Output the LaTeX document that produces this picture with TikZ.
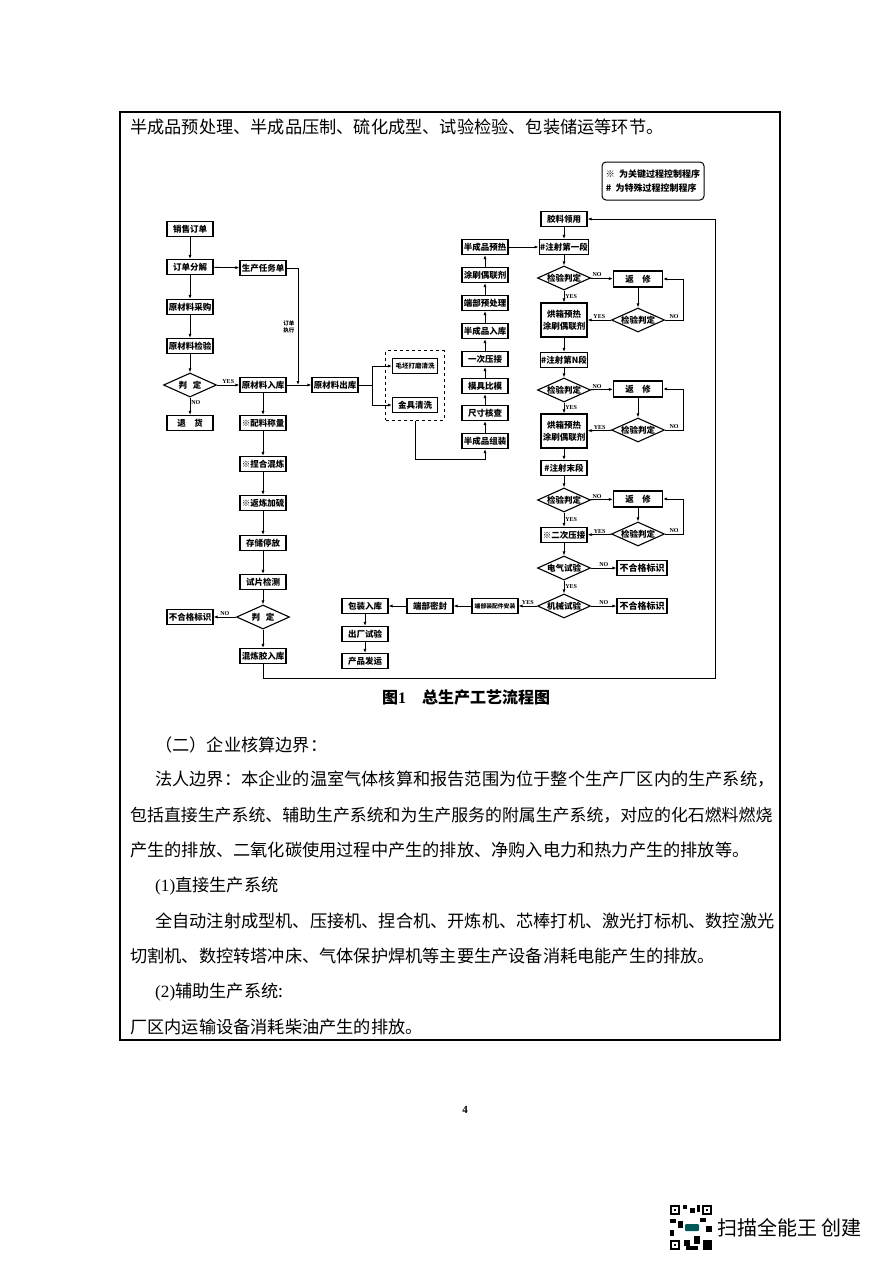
\documentclass[tikz,border=0pt]{standalone}
\usepackage{fontspec}
\setmainfont{Noto Sans CJK SC}
\newfontfamily\latin{Liberation Serif}
\usetikzlibrary{arrows.meta,positioning,shapes.geometric,fit}

\begin{document}
\begin{tikzpicture}[x=1pt,y=-1pt,
  every node/.style={font=\fontsize{8.5}{9}\selectfont\bfseries},
  box/.style={draw,line width=1.1pt,minimum width=46,minimum height=15,inner sep=1pt},
  dia/.style={draw,diamond,line width=1.1pt,minimum width=53,minimum height=24,inner sep=0pt},
  arr/.style={-{Latex[length=4pt,width=3pt]},line width=0.8pt},
  lab/.style={font=\latin\fontsize{6}{6}\selectfont\bfseries,inner sep=1pt},
  txt/.style={anchor=west,inner sep=0pt,font=\fontsize{17.2}{18}\selectfont}]
\useasboundingbox (0,0) rectangle (892,1263);
\fill[white] (0,0) rectangle (892,1263);
\draw[line width=1.3pt] (120,112) rectangle (780,1040);
\node[txt] (l0) at (130,127) {半成品预处理、半成品压制、硫化成型、试验检验、包装储运等环节。};

% legend
\node[draw,rounded corners=4pt,line width=1pt,minimum width=102,minimum height=38,align=left,font=\fontsize{9}{14}\selectfont\bfseries] (legend) at (653,181) {※\ \ 为关键过程控制程序\\\#\ \ 为特殊过程控制程序};

% raw material
\node[box] (sale) at (190,229) {销售订单};
\node[box] (split) at (190,267) {订单分解};
\node[box] (buy) at (190,307) {原材料采购};
\node[box] (check) at (190,346) {原材料检验};
\node[dia,label={center:判\ \ \ 定}] (judgeA) at (190,385) {};
\node[box] (ret) at (190,423) {退\quad 货};
\node[box] (task) at (263,268) {生产任务单};
\node[box] (instore) at (263,385) {原材料入库};
\node[box] (outstore) at (335,385) {原材料出库};
\coordinate (tj) at (298,385);
\coordinate (sp) at (372,385);

% rubber mixing
\node[box] (weigh) at (263,423) {※配料称量};
\node[box] (knead) at (263,464) {※捏合混炼};
\node[box] (remix) at (263,503) {※返炼加硫};
\node[box] (store) at (263,543) {存储停放};
\node[box] (sample) at (263,582) {试片检测};
\node[dia,label={center:判\ \ \ 定}] (judgeB) at (263,617) {};
\node[box] (rejA) at (190,617) {不合格标识};
\node[box] (mixin) at (263,656) {混炼胶入库};
\coordinate (lp) at (715,678);

% cleaning
\node[box,minimum width=45,font=\fontsize{6.5}{7}\selectfont\bfseries] (grind) at (415,366) {毛坯打磨清洗};
\node[box,minimum width=45] (fitting) at (415,405) {金具清洗};
\node[draw,dashed,line width=1pt,inner xsep=6pt,inner ysep=7pt,fit=(grind)(fitting)] (clean) {};

% semi-finished product
\node[box] (assem) at (485,441) {半成品组装};
\node[box] (size) at (485,413) {尺寸核查};
\node[box] (mold) at (485,386) {模具比模};
\node[box] (press) at (485,359) {一次压接};
\node[box] (semi) at (485,331) {半成品入库};
\node[box] (endp) at (485,303) {端部预处理};
\node[box] (coat) at (485,275) {涂刷偶联剂};
\node[box] (pre) at (485,247) {半成品预热};

% injection
\node[box] (glue) at (564,219) {胶料领用};
\node[box] (inj1) at (564,247) {\#注射第一段};
\node[dia,label={center:检验判定}] (chk1) at (564,278) {};
\node[box,minimum width=49,minimum height=16] (fix1) at (638,279) {返\quad 修};
\node[dia,label={center:检验判定}] (chk1b) at (638,320) {};
\node[box,align=center,minimum height=34,font=\fontsize{8.5}{12}\selectfont\bfseries] (oven1) at (564,320) {烘箱预热\\涂刷偶联剂};
\node[box] (injN) at (564,360) {\#注射第N段};
\node[dia,label={center:检验判定}] (chk2) at (564,390) {};
\node[box,minimum width=49,minimum height=16] (fix2) at (638,389) {返\quad 修};
\node[dia,label={center:检验判定}] (chk2b) at (638,430) {};
\node[box,align=center,minimum height=34,font=\fontsize{8.5}{12}\selectfont\bfseries] (oven2) at (564,431) {烘箱预热\\涂刷偶联剂};
\node[box] (injE) at (564,468) {\#注射末段};
\node[dia,label={center:检验判定}] (chk3) at (564,500) {};
\node[box,minimum width=49,minimum height=16] (fix3) at (638,499) {返\quad 修};
\node[dia,label={center:检验判定}] (chk3b) at (638,534) {};
\node[box] (press2) at (564,535) {※二次压接};
\node[dia,label={center:电气试验}] (elec) at (564,568) {};
\node[box,minimum width=50,font=\fontsize{9}{9}\selectfont\bfseries] (rejB) at (642,568) {不合格标识};
\node[dia,label={center:机械试验}] (mech) at (564,606) {};
\node[box,minimum width=50,font=\fontsize{9}{9}\selectfont\bfseries] (rejC) at (642,606) {不合格标识};

% packing
\node[box,font=\fontsize{5.8}{6}\selectfont\bfseries] (endfit) at (495,606) {端部装配件安装};
\node[box] (seal) at (430,606) {端部密封};
\node[box] (pack) at (365,606) {包装入库};
\node[box] (exit) at (365,634) {出厂试验};
\node[box] (ship) at (365,661) {产品发运};

% connectors
\draw[arr] (sale) -- (split);
\draw[arr] (split) -- (buy);
\draw[arr] (buy) -- (check);
\draw[arr] (check) -- (judgeA);
\draw[arr] (judgeA) -- node[right,lab,pos=0.3]{NO} (ret);
\draw[arr] (split) -- (task);
\draw[arr] (task.east) -| node[left,pos=0.75,align=center,font=\fontsize{5.5}{7}\selectfont\bfseries]{订单\\执行} (tj);
\draw[arr] (judgeA) -- node[above,lab]{YES} (instore);
\draw[arr] (instore) -- (outstore);
\draw[line width=0.8pt] (outstore) -- (sp);
\draw[arr] (sp) |- (grind);
\draw[arr] (sp) |- (fitting);
\draw[arr] (clean.south) -- ++(0,39) -| (assem);
\draw[arr] (instore) -- (weigh);
\draw[arr] (weigh) -- (knead);
\draw[arr] (knead) -- (remix);
\draw[arr] (remix) -- (store);
\draw[arr] (store) -- (sample);
\draw[arr] (sample) -- (judgeB);
\draw[arr] (judgeB) -- node[above,lab]{NO} (rejA);
\draw[arr] (judgeB) -- (mixin);
\draw[arr] (mixin) |- (lp) |- (glue);
\draw[arr] (assem) -- (size);
\draw[arr] (size) -- (mold);
\draw[arr] (mold) -- (press);
\draw[arr] (press) -- (semi);
\draw[arr] (semi) -- (endp);
\draw[arr] (endp) -- (coat);
\draw[arr] (coat) -- (pre);
\draw[arr] (pre) -- (inj1);
\draw[arr] (glue) -- (inj1);
\draw[arr] (inj1) -- (chk1);
\draw[arr] (chk1) -- node[above,lab,pos=0.3]{NO} (fix1);
\draw[arr] (fix1) -- (chk1b);
\draw[arr] (chk1b.east) -- node[above,lab]{NO} ++(18,0) |- (fix1);
\draw[arr] (chk1b) -- node[above,lab]{YES} (oven1);
\draw[arr] (chk1) -- node[right,lab]{YES} (oven1);
\draw[arr] (oven1) -- (injN);
\draw[arr] (injN) -- (chk2);
\draw[arr] (chk2) -- node[above,lab,pos=0.3]{NO} (fix2);
\draw[arr] (fix2) -- (chk2b);
\draw[arr] (chk2b.east) -- node[above,lab]{NO} ++(18,0) |- (fix2);
\draw[arr] (chk2b) -- node[above,lab]{YES} (oven2);
\draw[arr] (chk2) -- node[right,lab]{YES} (oven2);
\draw[arr] (oven2) -- (injE);
\draw[arr] (injE) -- (chk3);
\draw[arr] (chk3) -- node[above,lab,pos=0.3]{NO} (fix3);
\draw[arr] (fix3) -- (chk3b);
\draw[arr] (chk3b.east) -- node[above,lab]{NO} ++(18,0) |- (fix3);
\draw[arr] (chk3b) -- node[above,lab]{YES} (press2);
\draw[arr] (chk3) -- node[right,lab]{YES} (press2);
\draw[arr] (press2) -- (elec);
\draw[arr] (elec) -- node[above,lab]{NO} (rejB);
\draw[arr] (elec) -- node[right,lab]{YES} (mech);
\draw[arr] (mech) -- node[above,lab]{NO} (rejC);
\draw[arr] (mech) -- node[above,lab]{YES} (endfit);
\draw[arr] (endfit) -- (seal);
\draw[arr] (seal) -- (pack);
\draw[arr] (pack) -- (exit);
\draw[arr] (exit) -- (ship);

\node[font=\fontsize{16}{16}\selectfont\bfseries] (cap) at (466,697) {图{\latin 1}\quad 总生产工艺流程图};

% text below the figure
\node[txt] (h2) at (155,745) {（二）企业核算边界：};
\node[txt] (p1) at (155,779) {法人边界：本企业的温室气体核算和报告范围为位于整个生产厂区内的生产系统，};
\node[txt,font=\fontsize{16.9}{18}\selectfont] (p2) at (130,815) {包括直接生产系统、辅助生产系统和为生产服务的附属生产系统，对应的化石燃料燃烧};
\node[txt] (p3) at (130,850) {产生的排放、二氧化碳使用过程中产生的排放、净购入电力和热力产生的排放等。};
\node[txt] (s1) at (155,886) {{\latin (1)}直接生产系统};
\node[txt] (p4) at (155,921) {全自动注射成型机、压接机、捏合机、开炼机、芯棒打机、激光打标机、数控激光};
\node[txt] (p5) at (130,956) {切割机、数控转塔冲床、气体保护焊机等主要生产设备消耗电能产生的排放。};
\node[txt] (s2) at (155,992) {{\latin (2)}辅助生产系统:};
\node[txt] (p6) at (130,1027) {厂区内运输设备消耗柴油产生的排放。};

\node[font=\latin\fontsize{11}{11}\selectfont\bfseries] (page) at (465,1110) {4};

% scanner mark
\fill (670,1205) rectangle (680,1215);
\fill[white] (672,1207) rectangle (678,1213);
\fill (674,1209) rectangle (676,1211);
\fill (702,1205) rectangle (712,1215);
\fill[white] (704,1207) rectangle (710,1213);
\fill (706,1209) rectangle (708,1211);
\fill (670,1240) rectangle (680,1250);
\fill[white] (672,1242) rectangle (678,1248);
\fill (674,1244) rectangle (676,1246);
\fill (683,1205) rectangle (687,1209);
\fill (690,1208) rectangle (695,1213);
\fill (697,1205) rectangle (700,1212);
\fill (670,1219) rectangle (676,1223);
\fill (678,1221) rectangle (683,1228);
\fill (670,1230) rectangle (674,1236);
\fill (700,1218) rectangle (706,1222);
\fill (706,1226) rectangle (712,1232);
\fill (684,1240) rectangle (690,1246);
\fill (694,1236) rectangle (700,1244);
\fill (703,1240) rectangle (712,1250);
\fill (686,1246) rectangle (698,1250);
\fill[teal!70!black,rounded corners=1pt] (685,1224) rectangle (699,1231);
\node[anchor=west,inner sep=0pt,font=\fontsize{20}{20}\selectfont] (cs) at (717,1228) {扫描全能王\ 创建};
\end{tikzpicture}
\end{document}
